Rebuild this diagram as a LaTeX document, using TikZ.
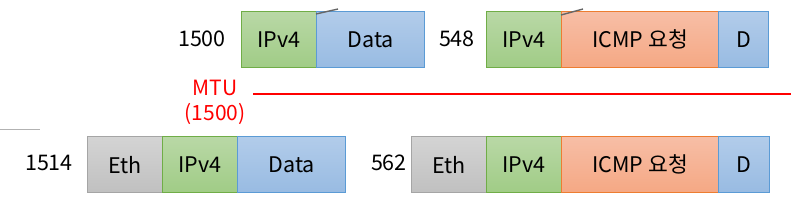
\documentclass[tikz,border=0pt]{standalone}
\usepackage{fontspec}
\setmainfont{Noto Sans CJK KR}
\begin{document}
\begin{tikzpicture}[x=1pt,y=-1pt,
  seg/.style={draw, line width=1.2pt, anchor=north west, minimum height=56pt, inner sep=0pt, font=\fontsize{21.5}{25}\selectfont, text=black},
  grn/.style={seg, draw={rgb,255:red,112;green,173;blue,71}, top color={rgb,255:red,185;green,216;blue,166}, bottom color={rgb,255:red,160;green,204;blue,134}},
  blu/.style={seg, draw={rgb,255:red,91;green,155;blue,213}, top color={rgb,255:red,178;green,204;blue,234}, bottom color={rgb,255:red,152;green,187;blue,226}},
  org/.style={seg, draw={rgb,255:red,237;green,125;blue,49}, top color={rgb,255:red,247;green,190;blue,166}, bottom color={rgb,255:red,245;green,168;blue,132}},
  gry/.style={seg, draw={rgb,255:red,165;green,165;blue,165}, top color={rgb,255:red,212;green,212;blue,212}, bottom color={rgb,255:red,192;green,192;blue,192}},
  num/.style={font=\fontsize{21.5}{25}\selectfont, inner sep=0pt},
  red/.style={text={rgb,255:red,255;green,0;blue,0}, font=\fontsize{21}{25}\selectfont, inner sep=0pt}]
\useasboundingbox (0,0) rectangle (791,209);
% top left
\node[grn, minimum width=75pt] (ipA) at (241,11) {IPv4};
\node[blu, minimum width=108pt] (dataA) at (316,11) {Data};
\node[num, anchor=east] (nA) at (226,39) {1500};
% top right
\node[grn, minimum width=75pt] (ipB) at (486,11) {IPv4};
\node[org, minimum width=157pt] (icmpB) at (561,11) {ICMP 요청};
\node[blu, minimum width=50pt] (dB) at (718,11) {D};
\node[num, anchor=east] (nB) at (475,39) {548};
% MTU
\node[red] (mtu) at (215,88) {MTU};
\node[red] (mtuv) at (215,114) {(1500)};
\coordinate (ls) at (253,94);
\coordinate (le) at (791,94);
\draw[line width=2pt, draw={rgb,255:red,255;green,0;blue,0}] (ls) -- (le);
% bottom left
\node[gry, minimum width=75pt] (ethC) at (87,136) {Eth};
\node[grn, minimum width=75pt] (ipC) at (162,136) {IPv4};
\node[blu, minimum width=108pt] (dataC) at (237,136) {Data};
\node[num, anchor=east] (nC) at (73,163) {1514};
% bottom right
\node[gry, minimum width=75pt] (ethD) at (411,136) {Eth};
\node[grn, minimum width=75pt] (ipD) at (486,136) {IPv4};
\node[org, minimum width=157pt] (icmpD) at (561,136) {ICMP 요청};
\node[blu, minimum width=51pt] (dD) at (718,136) {D};
\node[num, anchor=east] (nD) at (407,163) {562};
% stray lines
\coordinate (g1) at (0,129); \coordinate (g2) at (40,129);
\draw[gray!60, line width=0.8pt] (g1) -- (g2);
\coordinate (s1) at (316,14); \coordinate (s2) at (338,9);
\draw[gray!80!black, line width=1.4pt] (s1) -- (s2);
\coordinate (s3) at (561,15); \coordinate (s4) at (583,9);
\draw[gray!80!black, line width=1.4pt] (s3) -- (s4);
\end{tikzpicture}
\end{document}
